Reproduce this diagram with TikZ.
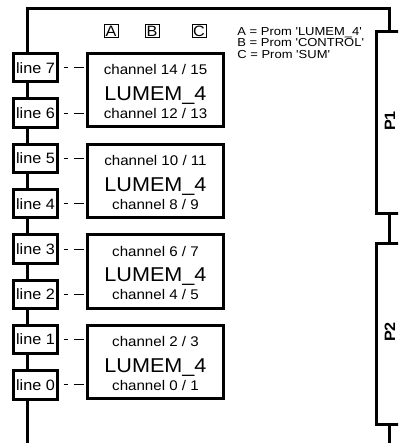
\documentclass[tikz,border=0pt]{standalone}
\usepackage{fontspec}
\setmainfont{Liberation Sans}[FakeStretch=1.08]
\newfontfamily\legendfont{Liberation Sans}[FakeStretch=1.12]

\tikzset{
  bus/.style={line width=1.5pt},
  linebox/.style={draw, line width=1.5pt, fill=white, minimum width=22.2pt,
    minimum height=14.2pt, inner sep=0pt, font=\fontsize{7.5}{8}\selectfont},
  memblock/.style={draw, line width=1.5pt, minimum width=68.2pt,
    minimum height=36.7pt, inner sep=0pt},
  chan/.style={anchor=base, font=\fontsize{7}{8}\selectfont},
  memname/.style={anchor=base, font=\fontsize{10}{12}\selectfont},
  tag/.style={draw, line width=0.5pt, minimum width=7pt, minimum height=6.5pt,
    inner sep=0pt, font=\fontsize{7.5}{8}\selectfont},
  link/.style={line width=0.5pt, dash pattern=on 2pt off 3pt on 5pt off 4.8pt,
    dash phase=12.65pt},
  legend/.style={anchor=base west, inner sep=0pt, font=\legendfont\fontsize{5.8}{6}\selectfont},
  pbox/.style={draw, line width=1.5pt, anchor=north west, minimum width=40pt,
    minimum height=90.75pt, inner sep=0pt},
  plabel/.style={rotate=90, font=\bfseries\fontsize{7.5}{8}\selectfont}
}

\begin{document}
\begin{tikzpicture}[x=0.5pt, y=-0.5pt]
    \useasboundingbox (0,0) rectangle (398,443);
    \clip (0,0) rectangle (398,443);

    % bus coordinates
    \coordinate (bustop) at (27.2,9);
    \coordinate (busend) at (27.2,443);
    \coordinate (tapx) at (389.3,0);

    % P1 / P2 blocks on the right
    \node[pbox] (p1) at (374.5,30.5) {};
    \node[pbox] (p2) at (374.5,241.5) {};
    \node[plabel] (p1lbl) at (390,121) {P1};
    \node[plabel] (p2lbl) at (390,332) {P2};

    % main bus
    \draw[bus] (busend) -- (bustop) -| (p1.north -| tapx);
    \draw[bus] (p1.south -| tapx) -- (p2.north -| tapx);
    \draw[bus] (p2.south -| tapx) -- (tapx |- busend);

    % prom tags
    \foreach \t/\x in {A/111, B/152, C/199}
        \node[tag] (tag\t) at (\x,31) {\t};

    % legend
    \node[legend] (lega) at (237,35.5) {A = Prom 'LUMEM\_4'};
    \node[legend] (legb) at (237,47) {B = Prom 'CONTROL'};
    \node[legend] (legc) at (237,58.5) {C = Prom 'SUM'};

    % LUMEM_4 blocks
    \foreach \k in {0,...,3} {
        \pgfmathtruncatemacro\ha{4*\k+2}
        \pgfmathtruncatemacro\hb{4*\k+3}
        \pgfmathtruncatemacro\la{4*\k}
        \pgfmathtruncatemacro\lb{4*\k+1}
        \node[memblock] (m\k) at (155.5,{90.3+(3-\k)*90.6}) {};
        \node[chan] (m\k hi) at ([yshift=7.65pt]m\k.center) {channel \ha\ / \hb};
        \node[memname] (m\k name) at ([yshift=-5.2pt]m\k.center) {LUMEM\_4};
        \node[chan] (m\k lo) at ([yshift=-14.2pt]m\k.center) {channel \la\ / \lb};
    }

    % line boxes and links
    \foreach \n in {0,...,7} {
        \pgfmathtruncatemacro\k{int(\n/2)}
        \node[linebox] (l\n) at (35.5,{67.8+(7-\n)*45.3}) {line \n};
        \draw[link] (l\n.east) -- (l\n.east -| m\k.west);
    }
\end{tikzpicture}
\end{document}
